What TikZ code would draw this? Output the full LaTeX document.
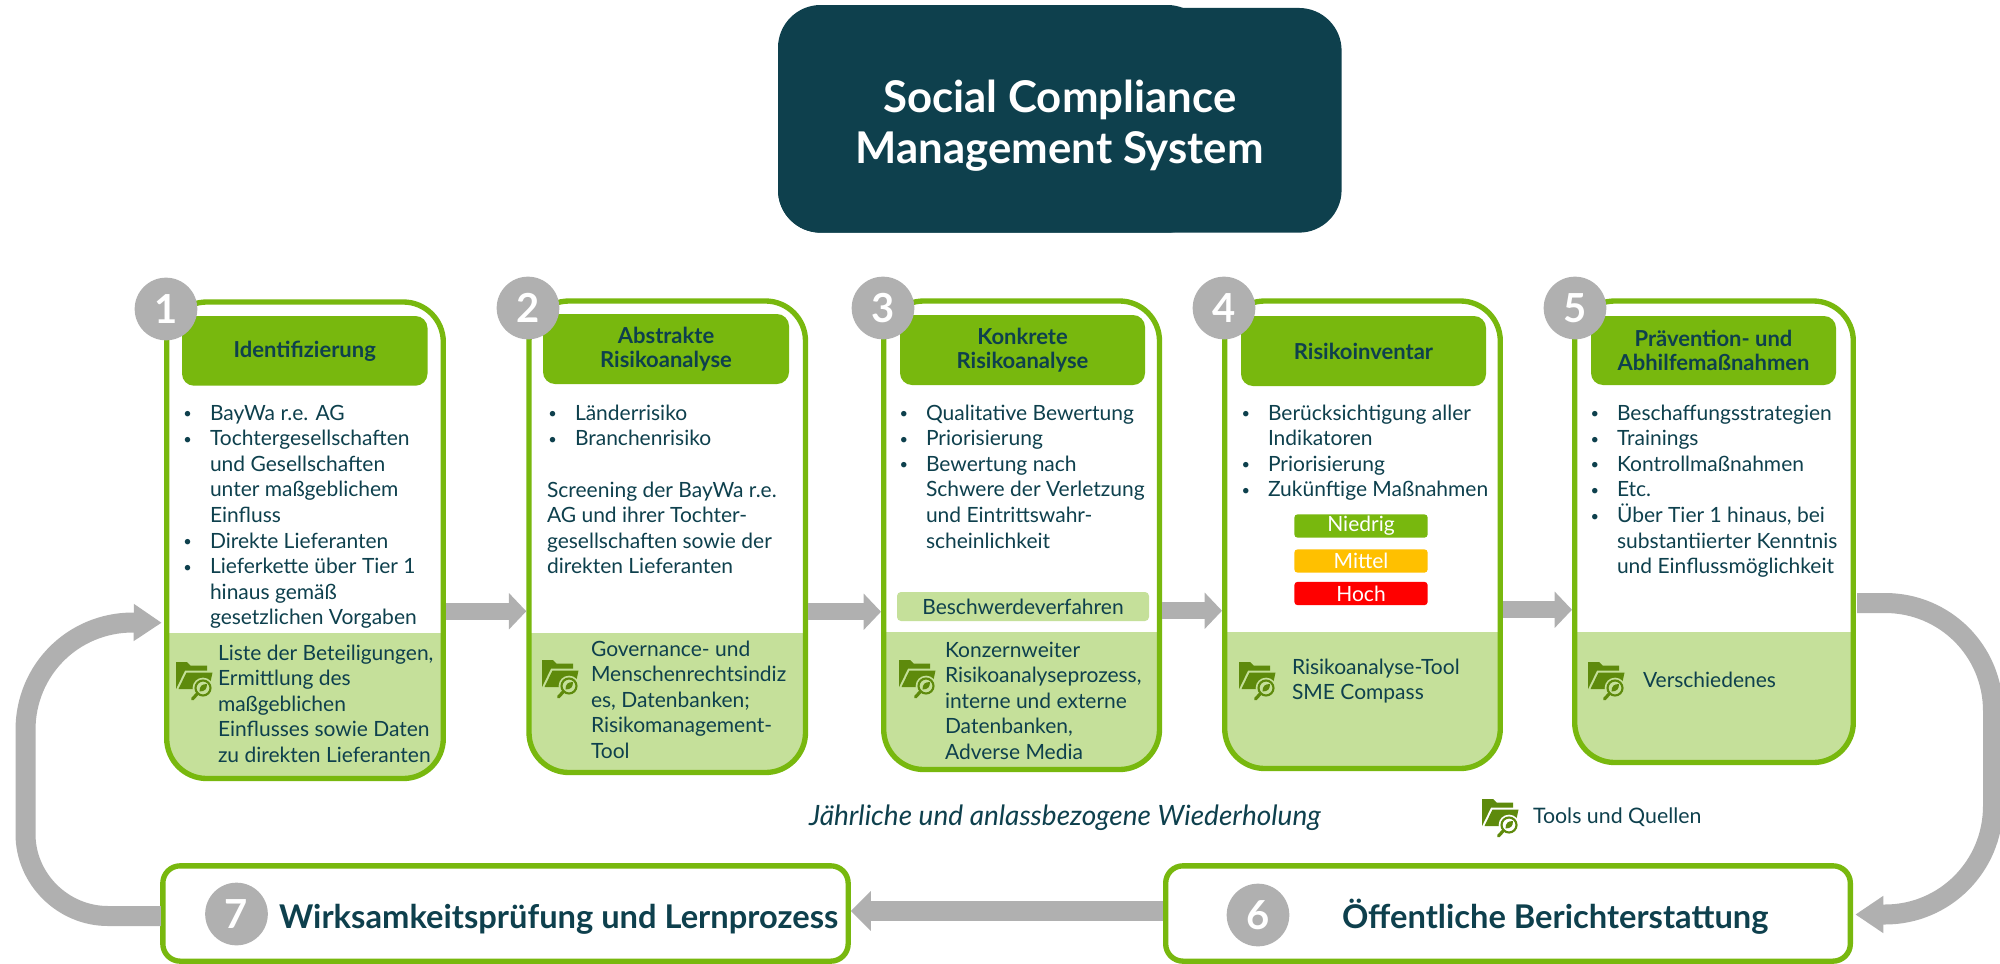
\documentclass[tikz,border=0pt]{standalone}
\usepackage{fontspec}
\setmainfont{Lato}
\usetikzlibrary{arrows.meta,calc}
\definecolor{darkteal}{HTML}{0E404D}
\definecolor{mygreen}{HTML}{78B80E}
\definecolor{lightg}{HTML}{C5E09A}
\definecolor{mygrey}{HTML}{B0B0B0}
\definecolor{icong}{HTML}{5E8A0C}
\definecolor{amber}{HTML}{FFC000}
\definecolor{signalred}{HTML}{FF0000}
\tikzset{
 every node/.style={text=darkteal,inner sep=0pt,outer sep=0pt},
 cardshape/.style={rectangle,rounded corners=30pt,fill=white},
 cardline/.style={draw=mygreen,line width=4pt,rounded corners=30pt},
 headerbox/.style={rectangle,rounded corners=9pt,fill=mygreen,align=center,font=\fontsize{16.5}{18.3}\selectfont\bfseries},
 body/.style={anchor=north west,align=left,font=\fontsize{15.75}{19.2}\selectfont},
 numdot/.style={circle,fill=mygrey,minimum size=47pt,text=white,font=\fontsize{30}{30}\selectfont\bfseries},
 risk/.style={rectangle,rounded corners=2.5pt,minimum width=100pt,minimum height=17.5pt,text=white,font=\fontsize{15.75}{19}\selectfont},
 widebox/.style={rectangle,rounded corners=13pt,fill=white,draw=mygreen,line width=4pt},
 widetext/.style={anchor=base west,font=\fontsize{24.5}{28}\selectfont\bfseries},
 flowa/.style={draw=mygrey,line width=13pt,-{Triangle[length=13pt,width=26.5pt]}},
 flowb/.style={draw=mygrey,line width=15pt,-{Triangle[length=21pt,width=26.5pt]}},
 flowc/.style={draw=mygrey,line width=15pt,-{Triangle[length=15pt,width=29pt]}},
 pics/foldericon/.style={code={
  \fill[icong] (0,0)--(11,0)--(14.5,3.5)--(31,3.5)--(31,8.5)--(9,8.5)--(1,25)--(0,27)--cycle;
  \fill[icong] (10.5,10.5)--(36.5,10.5)--(33,27)--(2.5,27)--cycle;
  \draw[#1,line width=2pt] (27,26) circle[radius=9];
  \fill[#1] (27,26) circle[radius=8];
  \draw[icong,line width=1.6pt] (27,26) circle[radius=7.5];
  \fill[icong] (23.5,29.5) .. controls (23.5,24) and (26,22) .. (31,22) .. controls (31,27) and (29,29.5) .. (23.5,29.5) -- cycle;
  \draw[icong,line width=2.4pt,line cap=round] (21.5,31.5) -- (16.5,37);
 }}
}
\newcommand{\bul}{\makebox[0pt][r]{\fontsize{11}{11}\selectfont\raisebox{.18ex}{•}\hspace{13.5pt}}}
\newcommand{\cardbox}[6]{%
 \pgfmathsetmacro\cw{(#4-#2)*0.75}\pgfmathsetmacro\ch{(#5-#3)*0.75}
 \node[cardshape,minimum width=\cw pt,minimum height=\ch pt] (#1) at ({(#2+#4)/2},{(#3+#5)/2}) {};
 \begin{scope}
  \clip (#2,#6) rectangle (#4,#5);
  \fill[lightg,rounded corners=30pt] (#2,#3) rectangle (#4,#5);
 \end{scope}
 \draw[cardline] (#1.south west) rectangle (#1.north east);
}
\newcommand{\hdr}[6]{%
 \pgfmathsetmacro\cw{(#4-#2)*0.75}\pgfmathsetmacro\ch{(#5-#3)*0.75}
 \node[headerbox,minimum width=\cw pt,minimum height=\ch pt] (#1) at ({(#2+#4)/2},{(#3+#5)/2}) {#6};
}
\newcommand{\txt}[4]{\node[body] (#1) at (#2,{#3-17.9}) {\strut #4};}
\begin{document}
\begin{tikzpicture}[x=0.75pt,y=-0.75pt]
\path[use as bounding box,clip] (0,0) rectangle (2000,964);
\fill[white] (0,0) rectangle (2000,964);
% title
\fill[darkteal,rounded corners=32pt] (778,5) rectangle (1210,232.7);
\node[rectangle,rounded corners=32pt,fill=darkteal,minimum width=422.7pt,minimum height=168.5pt,align=center,text=white,font=\fontsize{32.8}{38}\selectfont\bfseries] (title) at (1059.8,120.3) {\rule{0pt}{32pt}Social Compliance\\Management System};
% cards
\cardbox{card1}{166.7}{302}{443.3}{778.5}{633}
\cardbox{card2}{529}{301}{805.5}{772.5}{633}
\cardbox{card3}{883.7}{301}{1159.5}{769.5}{632}
\cardbox{card4}{1224.7}{301}{1500.3}{768.5}{632}
\cardbox{card5}{1574.7}{301}{1853.3}{762.5}{632.5}
% headers
\hdr{h1}{182}{316}{427.5}{385.7}{Identifizierung}
\hdr{h2}{543}{314}{789}{384}{Abstrakte\\Risikoanalyse}
\hdr{h3}{900}{315}{1145}{385}{Konkrete\\Risikoanalyse}
\hdr{h4}{1241}{316}{1486}{386}{Risikoinventar}
\hdr{h5}{1591}{316}{1836}{385}{Prävention- und\\Abhilfemaßnahmen}
% numbers
\node[numdot] (n1) at (166,309) {1};
\node[numdot] (n2) at (528,308) {2};
\node[numdot] (n3) at (883,308) {3};
\node[numdot] (n4) at (1224,308) {4};
\node[numdot] (n5) at (1575,308) {5};
% body text
\txt{t1}{210}{420}{\bul BayWa r.e. AG\\\bul Tochtergesellschaften\\und Gesellschaften\\unter maßgeblichem\\Einfluss\\\bul Direkte Lieferanten\\\bul Lieferkette über Tier 1\\hinaus gemäß\\gesetzlichen Vorgaben}
\txt{b1}{218}{660}{Liste der Beteiligungen,\\Ermittlung des\\maßgeblichen\\Einflusses sowie Daten\\zu direkten Lieferanten}
\txt{t2a}{575}{420}{\bul Länderrisiko\\\bul Branchenrisiko}
\txt{t2b}{547}{497}{Screening der BayWa r.e.\\AG und ihrer Tochter-\\gesellschaften sowie der\\direkten Lieferanten}
\txt{b2}{591}{656}{Governance- und\\Menschenrechtsindiz\\es, Datenbanken;\\Risikomanagement-\\Tool}
\txt{t3}{926}{420}{\bul Qualitative Bewertung\\\bul Priorisierung\\\bul Bewertung nach\\Schwere der Verletzung\\und Eintrittswahr-\\scheinlichkeit}
\node[rectangle,rounded corners=3pt,fill=lightg,minimum width=189pt,minimum height=21.75pt,font=\fontsize{15.75}{19.2}\selectfont] (beschwerde) at (1023,606.5) {Beschwerdeverfahren};
\txt{b3}{945}{657}{Konzernweiter\\Risikoanalyseprozess,\\interne und externe\\Datenbanken,\\Adverse Media}
\txt{t4}{1268}{420}{\bul Berücksichtigung aller\\Indikatoren\\\bul Priorisierung\\\bul Zukünftige Maßnahmen}
\node[risk,fill=mygreen] (rl) at (1361,526) {Niedrig};
\node[risk,fill=amber] (rm) at (1361,561) {Mittel};
\node[risk,fill=signalred] (rh) at (1361,593.5) {Hoch};
\txt{b4}{1292}{674}{Risikoanalyse-Tool\\SME Compass}
\txt{t5}{1617}{420}{\bul Beschaffungsstrategien\\\bul Trainings\\\bul Kontrollmaßnahmen\\\bul Etc.\\\bul Über Tier 1 hinaus, bei\\substantiierter Kenntnis\\und Einflussmöglichkeit}
\txt{b5}{1643}{687}{Verschiedenes}
% icons
\pic at (176,662) {foldericon=lightg};
\pic at (542,660) {foldericon=lightg};
\pic at (899,660) {foldericon=lightg};
\pic at (1239,662) {foldericon=lightg};
\pic at (1588,662) {foldericon=lightg};
\pic at (1482,799) {foldericon=white};
% captions
\node[anchor=base west,font=\fontsize{21}{25}\selectfont\itshape] (wdh) at (809,825) {Jährliche und anlassbezogene Wiederholung};
\node[anchor=base west,font=\fontsize{16}{19}\selectfont] (legend) at (1533,823) {Tools und Quellen};
% bottom boxes
\node[widebox,minimum width=514pt,minimum height=71.5pt] (box7) at (505.5,913.5) {};
\node[widebox,minimum width=513.5pt,minimum height=71.5pt] (box6) at (1508,913.5) {};
\node[numdot] (n7) at (236.5,914) {7};
\node[numdot] (n6) at (1258,915) {6};
\node[widetext] (w7) at (279,928) {Wirksamkeitsprüfung und Lernprozess};
\node[widetext] (w6) at (1342,928) {Öffentliche Berichterstattung};
% connectors
\draw[flowa] ($(card1.east)+(2.7,71)$) -- ($(card2.west)+(-2.7,74.5)$);
\draw[flowa] ($(card2.east)+(2.7,75)$) -- ($(card3.west)+(-2.7,76.5)$);
\draw[flowa] ($(card3.east)+(2.7,75.5)$) -- ($(card4.west)+(-2.7,76)$);
\draw[flowa] ($(card4.east)+(2.7,75)$) -- ($(card5.west)+(-2.7,78)$);
\draw[flowc] ($(box6.west)+(-2.7,-2.5)$) -- ($(box7.east)+(2.7,-2.5)$);
\coordinate (s5) at (1857,603);
\draw[flowb] (s5) -- (1885,603) .. controls (1945,603) and (1993,651) .. (1993,711) -- (1993,806) .. controls (1993,866) and (1945,914.5) .. (1885,914.5) -- ($(box6.east)+(5,1)$);
\draw[flowb] ($(box7.west)+(-2,2.5)$) -- (108,916) .. controls (63,916) and (25.5,879) .. (25.5,834) -- (25.5,730) .. controls (25.5,670) and (73,622.5) .. (133,622.5) -- ($(card1.west)+(-5,82.5)$);
\end{tikzpicture}
\end{document}
